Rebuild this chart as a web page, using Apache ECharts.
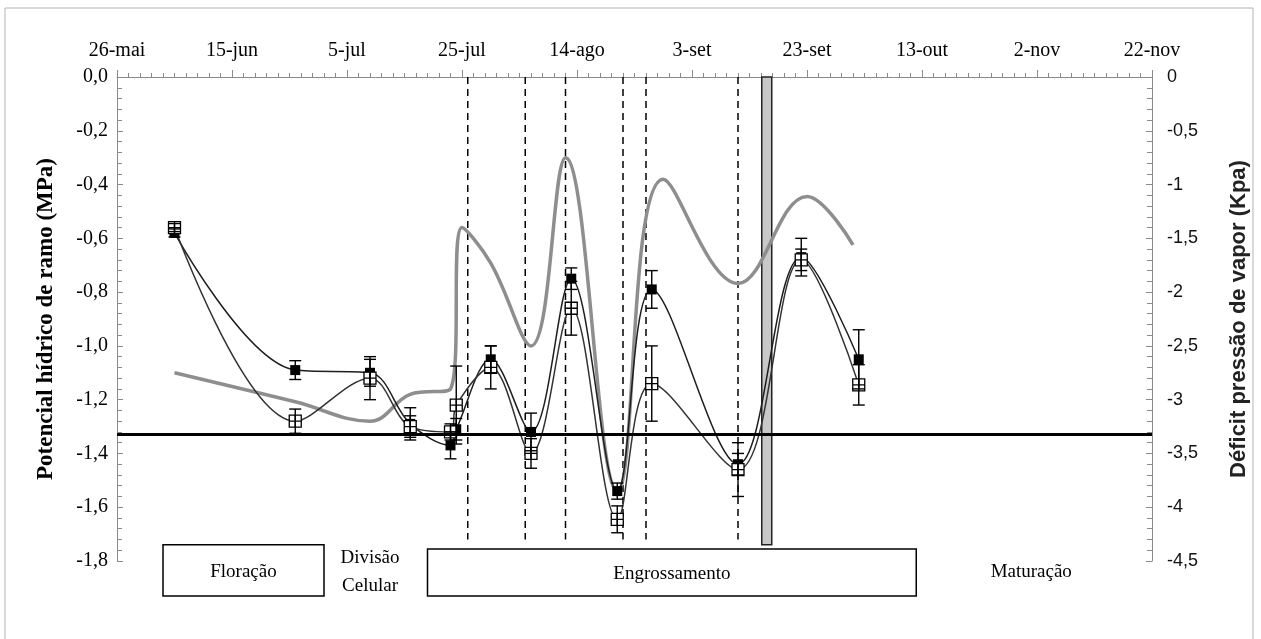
<!DOCTYPE html>
<html lang="pt">
<head>
<meta charset="UTF-8">
<title>Potencial hídrico de ramo</title>
<script src="https://cdn.jsdelivr.net/npm/echarts@6/dist/echarts.min.js"></script>
<style>
  html, body { margin: 0; background: #fff; }
  #chart { width: 1261px; height: 639px; }
</style>
</head>
<body>
<div id="chart"></div>
<script>
// datas das medições de potencial
const dates = ['2010-06-05', '2010-06-26', '2010-07-09', '2010-07-16', '2010-07-23', '2010-07-24', '2010-07-30',
  '2010-08-06', '2010-08-13', '2010-08-21', '2010-08-27', '2010-09-11', '2010-09-22', '2010-10-02']
// símbolo cheio
const ramoCheio = [-0.58, -1.09, -1.10, -1.29, -1.37, -1.31, -1.05, -1.32, -0.75, -1.54, -0.79, -1.44, -0.67, -1.05]
const erroCheio = [0.015, 0.035, 0.05, 0.06, 0.05, 0.04, 0.05, 0.07, 0.04, 0.03, 0.07, 0.04, 0.07, 0.11]
// símbolo vazio
const ramoVazio = [-0.56, -1.28, -1.12, -1.30, -1.32, -1.22, -1.08, -1.40, -0.86, -1.645, -1.14, -1.46, -0.68, -1.145]
const erroVazio = [0.015, 0.045, 0.08, 0.04, 0.03, 0.145, 0.08, 0.055, 0.10, 0.05, 0.14, 0.10, 0.04, 0.075]

// déficit de pressão de vapor (eixo direito)
const dpvDates = ['2010-06-05', '2010-06-26', '2010-07-09', '2010-07-16', '2010-07-23', '2010-07-25', '2010-07-30',
  '2010-08-06', '2010-08-12', '2010-08-21', '2010-08-29', '2010-09-11', '2010-09-23', '2010-10-01']
const dpvValues = [-2.75, -3.02, -3.2, -2.95, -2.9, -1.40, -1.73, -2.5, -0.75, -3.85, -0.95, -1.92, -1.11, -1.56]

// linhas verticais tracejadas e barra cinza
const dashedDates = ['2010-07-26', '2010-08-05', '2010-08-12', '2010-08-22', '2010-08-26', '2010-09-11']
const dashedBottom = -1.72
const barDate = '2010-09-16'
const barBottom = -1.74
const limiteLinha = -1.33

// fases fenológicas
const phaseNames = ['Floração', 'Divisão\nCelular', 'Engrossamento', 'Maturação']
const phaseStart = ['2010-06-03', '2010-07-09', '2010-07-19', '2010-11-01']
const phaseEnd = ['2010-07-01', '2010-07-09', '2010-10-12', '2010-11-01']
const phaseBoxed = [true, false, true, false]
const phaseTop = [-1.74, -1.74, -1.755, -1.74]
const phaseBottom = -1.93

const BASE = Date.UTC(2010, 4, 26)
const MESES = ['jan', 'fev', 'mar', 'abr', 'mai', 'jun', 'jul', 'ago', 'set', 'out', 'nov', 'dez']

function toDay(s) {
  const [y, m, d] = s.split('-').map(Number)
  return Math.round((Date.UTC(y, m - 1, d) - BASE) / 86400000)
}
function dayLabel(v) {
  const d = new Date(BASE + v * 86400000)
  return d.getUTCDate() + '-' + MESES[d.getUTCMonth()]
}

const SERIF = '"Liberation Serif", "Times New Roman", serif'
const SANS = '"Liberation Sans", "Open Sans", sans-serif'

function renderErr(params, api) {
  const x = api.value(0), v = api.value(1), e = api.value(2)
  const top = api.coord([x, v + e])
  const bot = api.coord([x, v - e])
  const cap = 6
  const st = { stroke: '#000', lineWidth: 1.4 }
  return {
    type: 'group',
    children: [
      { type: 'line', shape: { x1: top[0], y1: top[1], x2: bot[0], y2: bot[1] }, style: st },
      { type: 'line', shape: { x1: top[0] - cap, y1: top[1], x2: top[0] + cap, y2: top[1] }, style: st },
      { type: 'line', shape: { x1: bot[0] - cap, y1: bot[1], x2: bot[0] + cap, y2: bot[1] }, style: st }
    ]
  }
}

function renderDashed(params, api) {
  const a = api.coord([api.value(0), 0])
  const b = api.coord([api.value(0), api.value(1)])
  return {
    type: 'line',
    shape: { x1: a[0], y1: a[1], x2: b[0], y2: b[1] },
    style: { stroke: '#000', lineWidth: 1.5, lineDash: [7, 5] }
  }
}

function renderBar(params, api) {
  const a = api.coord([api.value(0), 0])
  const b = api.coord([api.value(0), api.value(1)])
  return {
    type: 'rect',
    shape: { x: a[0] - 5, y: a[1], width: 10, height: b[1] - a[1] },
    style: { fill: '#c8c8c8', stroke: '#222', lineWidth: 1.5 }
  }
}

function renderPhase(params, api) {
  const i = params.dataIndex
  const a = api.coord([api.value(0), api.value(2)])
  const b = api.coord([api.value(1), api.value(3)])
  const children = []
  if (phaseBoxed[i]) {
    children.push({
      type: 'rect',
      shape: { x: a[0], y: a[1], width: b[0] - a[0], height: b[1] - a[1] },
      style: { fill: '#fff', stroke: '#000', lineWidth: 1.5 }
    })
  }
  children.push({
    type: 'text',
    style: {
      text: phaseNames[i], x: (a[0] + b[0]) / 2, y: (a[1] + b[1]) / 2 + 2,
      align: 'center', verticalAlign: 'middle', font: '19px ' + SERIF, fill: '#000', lineHeight: 28
    }
  })
  return { type: 'group', children }
}

const chart = echarts.init(document.getElementById('chart'))
chart.setOption({
  animation: false,
  backgroundColor: '#fff',
  graphic: [{
    type: 'rect', z: -10, silent: true,
    shape: { x: 5, y: 8, width: 1248, height: 640 },
    style: { fill: 'none', stroke: '#b4b4b4', lineWidth: 1 }
  }],
  grid: { left: 117, right: 109, top: 77, bottom: 78 },
  xAxis: {
    type: 'value', position: 'top', min: 0, max: 180, interval: 20,
    axisLine: { lineStyle: { color: '#8a8a8a', width: 1 } },
    axisTick: { length: 7, lineStyle: { color: '#8a8a8a' } },
    minorTick: { show: true, splitNumber: 10, length: 4, lineStyle: { color: '#8a8a8a' } },
    splitLine: { show: false },
    axisLabel: { formatter: dayLabel, fontFamily: SERIF, fontSize: 20, color: '#000', margin: 16 }
  },
  yAxis: [{
    type: 'value', min: -1.8, max: 0, interval: 0.2,
    name: 'Potencial hídrico de ramo (MPa)', nameLocation: 'middle', nameGap: 59, nameRotate: 90,
    nameTextStyle: { fontFamily: SERIF, fontSize: 23, fontWeight: 'bold', color: '#000' },
    axisLine: { show: true, lineStyle: { color: '#8a8a8a' } },
    axisTick: { show: true, inside: true, length: 6, lineStyle: { color: '#8a8a8a' } },
    minorTick: { show: true, splitNumber: 5, length: 5, lineStyle: { color: '#8a8a8a' } },
    splitLine: { show: false },
    axisLabel: {
      formatter: v => v.toFixed(1).replace('.', ','), fontFamily: SERIF, fontSize: 20, color: '#000', margin: 9
    }
  }, {
    type: 'value', min: -4.5, max: 0, interval: 0.5, position: 'right',
    name: 'Déficit pressão de vapor (Kpa)', nameLocation: 'middle', nameGap: 76, nameRotate: 90,
    nameTextStyle: { fontFamily: SANS, fontSize: 22, fontWeight: 'bold', color: '#222' },
    axisLine: { show: true, lineStyle: { color: '#8a8a8a' } },
    axisTick: { show: true, inside: true, length: 6, lineStyle: { color: '#8a8a8a' } },
    minorTick: { show: true, splitNumber: 5, length: 5, lineStyle: { color: '#8a8a8a' } },
    splitLine: { show: false },
    axisLabel: {
      formatter: v => String(Math.round(v * 10) / 10).replace('.', ','), fontFamily: SANS, fontSize: 18, color: '#111', margin: 15
    }
  }],
  series: [{
    type: 'custom', name: 'barra', z: 1, clip: false, silent: true,
    renderItem: renderBar, encode: { x: 0, y: 1 },
    data: [[toDay(barDate), barBottom]]
  }, {
    type: 'custom', name: 'tracejado', z: 1, clip: false, silent: true,
    renderItem: renderDashed, encode: { x: 0, y: 1 },
    data: dashedDates.map(d => [toDay(d), dashedBottom])
  }, {
    type: 'line', name: 'DPV', yAxisIndex: 1, z: 2, smooth: 0.4, symbol: 'none',
    lineStyle: { color: '#8e8e8e', width: 3.5 },
    data: dpvDates.map((d, i) => [toDay(d), dpvValues[i]])
  }, {
    type: 'line', name: 'cheio', z: 4, smooth: 0.35, symbol: 'rect', symbolSize: 10,
    itemStyle: { color: '#000' },
    lineStyle: { color: '#1e1e1e', width: 1.5 },
    data: dates.map((d, i) => [toDay(d), ramoCheio[i]]),
    markLine: {
      silent: true, symbol: ['none', 'none'], label: { show: false },
      lineStyle: { color: '#000', width: 3, type: 'solid' },
      data: [{ yAxis: limiteLinha }]
    }
  }, {
    type: 'line', name: 'vazio', z: 4, smooth: 0.35,
    symbol: 'path://M0,0H10V10H0Z M5,0V10 M0,5H10', symbolSize: 12, symbolKeepAspect: true,
    itemStyle: { color: '#fff', borderColor: '#000', borderWidth: 1.3 },
    lineStyle: { color: '#333', width: 1.5 },
    data: dates.map((d, i) => [toDay(d), ramoVazio[i]])
  }, {
    type: 'custom', name: 'erro cheio', z: 6, clip: false, silent: true,
    renderItem: renderErr, encode: { x: 0, y: 1 },
    data: dates.map((d, i) => [toDay(d), ramoCheio[i], erroCheio[i]])
  }, {
    type: 'custom', name: 'erro vazio', z: 6, clip: false, silent: true,
    renderItem: renderErr, encode: { x: 0, y: 1 },
    data: dates.map((d, i) => [toDay(d), ramoVazio[i], erroVazio[i]])
  }, {
    type: 'custom', name: 'fases', z: 7, clip: false, silent: true,
    renderItem: renderPhase, encode: { x: [0, 1], y: [2, 3] },
    data: phaseNames.map((n, i) => [toDay(phaseStart[i]), toDay(phaseEnd[i]), phaseTop[i], phaseBottom])
  }]
})
window.addEventListener('resize', () => chart.resize())
</script>
</body>
</html>
